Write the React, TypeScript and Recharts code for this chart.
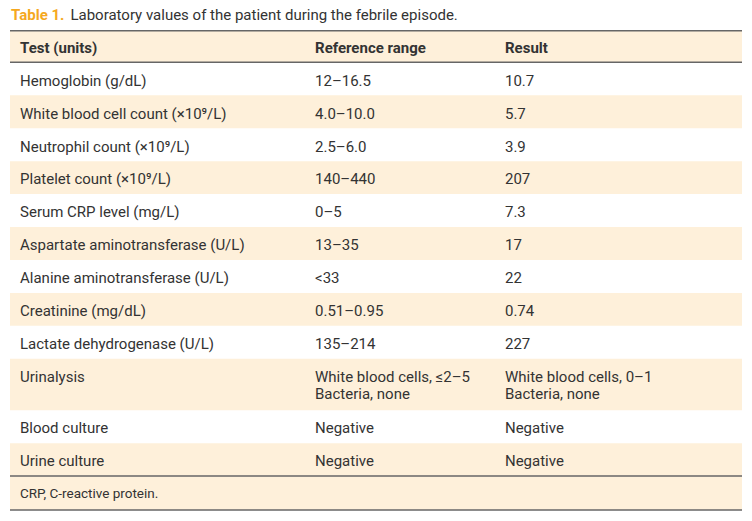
import React from "react";
import { ComposedChart, XAxis, YAxis, Scatter, ReferenceArea, ReferenceLine } from "recharts";

// ---------- content ----------
const titleLabel = "Table 1.";
const titleText = "Laboratory values of the patient during the febrile episode.";
const headers = ["Test (units)", "Reference range", "Result"];
const tests = [
  "Hemoglobin (g/dL)",
  "White blood cell count (×10⁹/L)",
  "Neutrophil count (×10⁹/L)",
  "Platelet count (×10⁹/L)",
  "Serum CRP level (mg/L)",
  "Aspartate aminotransferase (U/L)",
  "Alanine aminotransferase (U/L)",
  "Creatinine (mg/dL)",
  "Lactate dehydrogenase (U/L)",
  "Urinalysis",
  "Blood culture",
  "Urine culture",
];
const referenceRanges = [
  "12–16.5",
  "4.0–10.0",
  "2.5–6.0",
  "140–440",
  "0–5",
  "13–35",
  "<33",
  "0.51–0.95",
  "135–214",
  "White blood cells, ≤2–5\nBacteria, none",
  "Negative",
  "Negative",
];
const results = [
  "10.7",
  "5.7",
  "3.9",
  "207",
  "7.3",
  "17",
  "22",
  "0.74",
  "227",
  "White blood cells, 0–1\nBacteria, none",
  "Negative",
  "Negative",
];
const footnote = "CRP, C-reactive protein.";

// ---------- style / layout constants ----------
const W = 752;
const H = 521;
const FONT = "Roboto, 'Noto Sans', sans-serif";
const TEXT = "#333333";
const BEIGE = "#FEF0DA";
const RULE = "#666666";
const ORANGE = "#F5A81E";
const columnX = [1.37, 41.67, 67.62]; // percent of table width
const HEADER_UNITS = 0.96;
const LINE_EXTRA_UNITS = 0.56;
const FOOTER_UNITS = 1.03;

type Row = { kind: "header" | "data" | "footer"; top: number; bottom: number; cells: string[]; shaded: boolean };

const rows: Row[] = [];
let cursor = 0;
rows.push({ kind: "header", top: cursor, bottom: cursor + HEADER_UNITS, cells: headers, shaded: true });
cursor += HEADER_UNITS;
tests.forEach((t, i) => {
  const cells = [t, referenceRanges[i], results[i]];
  const lines = Math.max(...cells.map((c) => c.split("\n").length));
  const h = 1 + LINE_EXTRA_UNITS * (lines - 1);
  rows.push({ kind: "data", top: cursor, bottom: cursor + h, cells, shaded: i % 2 === 1 });
  cursor += h;
});
const dataEnd = cursor;
rows.push({ kind: "footer", top: cursor, bottom: cursor + FOOTER_UNITS, cells: [footnote], shaded: true });
cursor += FOOTER_UNITS;
const total = cursor;
const headerEnd = HEADER_UNITS;

type Cell = { x: number; y: number; text: string; kind: Row["kind"] };
const cells: Cell[] = [];
rows.forEach((r) => {
  r.cells.forEach((c, ci) => {
    cells.push({ x: columnX[ci], y: r.top, text: c, kind: r.kind });
  });
});

const CellText = (props: any) => {
  const { cx, cy, payload } = props;
  if (cx == null || cy == null || !payload) return null;
  const kind = payload.kind as Row["kind"];
  const size = kind === "footer" ? 13.5 : 15;
  const weight = kind === "header" ? 700 : 400;
  const offset = kind === "data" ? 23.3 : 22;
  const lines = String(payload.text).split("\n");
  return (
    <text
      x={cx}
      y={cy + offset}
      fontFamily={FONT}
      fontSize={size}
      fontWeight={weight}
      fill={TEXT}
    >
      {lines.map((l, i) => (
        <tspan key={i} x={cx} dy={i === 0 ? 0 : 17}>
          {l}
        </tspan>
      ))}
    </text>
  );
};

export default function App() {
  return (
    <div style={{ position: "absolute", left: 0, top: 0, width: W, height: H, background: "#fff" }}>
      <svg width={W} height={30} style={{ position: "absolute", left: 0, top: 0 }}>
        <text x={11} y={20.3} fontFamily={FONT} fontSize={15}>
          <tspan fill={ORANGE} fontWeight={700}>{titleLabel}</tspan>
          <tspan fill={TEXT} dx={6}>{titleText}</tspan>
        </text>
      </svg>
      <div style={{ position: "absolute", left: 0, top: 0 }}>
        <ComposedChart
          width={W}
          height={H}
          data={cells}
          margin={{ top: 30.7, right: 10, bottom: 11, left: 10 }}
        >
          <XAxis type="number" dataKey="x" domain={[0, 100]} allowDataOverflow hide />
          <YAxis type="number" dataKey="y" domain={[0, total]} allowDataOverflow reversed hide />
          {rows
            .filter((r) => r.shaded)
            .map((r, i) => (
              <ReferenceArea
                key={"bg" + i}
                x1={0}
                x2={100}
                y1={r.top}
                y2={r.bottom}
                fill={BEIGE}
                fillOpacity={1}
                stroke="none"
                ifOverflow="visible"
              />
            ))}
          {[0, headerEnd, dataEnd, total].map((y, i) => (
            <ReferenceLine key={"rule" + i} y={y} stroke={RULE} strokeWidth={1.5} ifOverflow="visible" />
          ))}
          <Scatter data={cells} dataKey="y" isAnimationActive={false} shape={<CellText />} />
        </ComposedChart>
      </div>
    </div>
  );
}
